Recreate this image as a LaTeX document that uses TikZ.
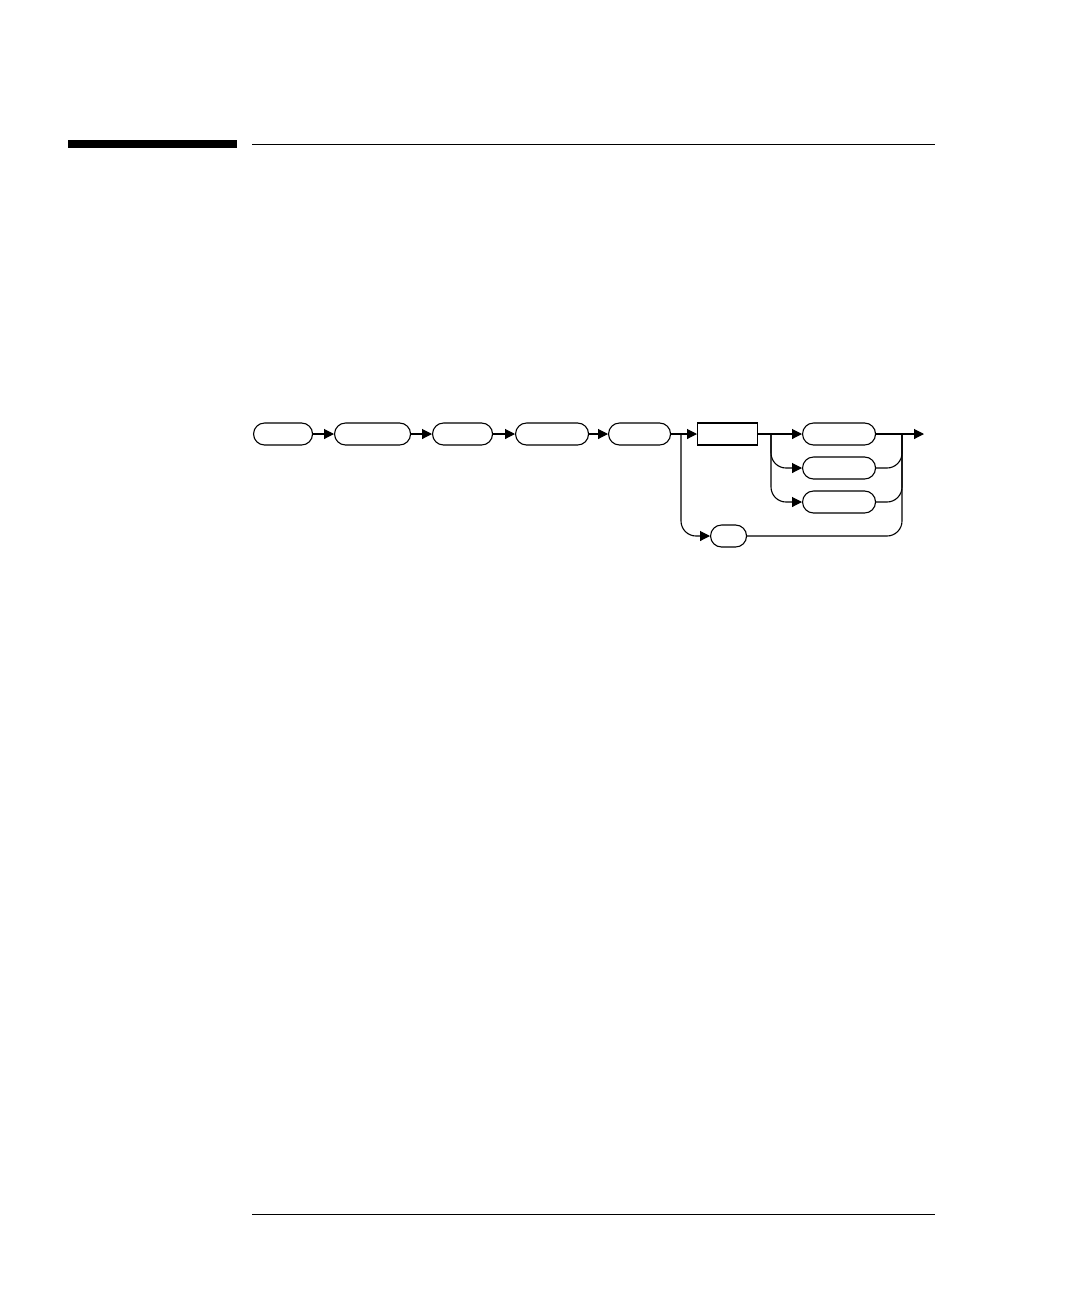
\documentclass[tikz,border=0pt]{standalone}
\usetikzlibrary{arrows.meta}
\begin{document}
\begin{tikzpicture}[x=1pt,y=-1pt,
  term/.style={draw,line width=1.1pt,rounded corners=11pt,minimum height=22pt,inner sep=0pt,anchor=west},
  nonterm/.style={draw,line width=1.1pt,minimum height=22pt,inner sep=0pt,anchor=west},
  conn/.style={line width=1.1pt},
  arr/.style={conn,-{Triangle[length=10pt,width=10pt]}},
  rc/.style={rounded corners=15pt}]
\useasboundingbox (0,0) rectangle (1080,1296);
% header / footer rules
\fill (68,140) rectangle (237,148);
\draw[line width=1pt] (252,144) -- (935,144);
\draw[line width=1pt] (252,1214) -- (935,1214);
% main chain
\node[term,minimum width=59pt] (n1) at (253,434) {};
\node[term,minimum width=76pt] (n2) at (334,434) {};
\node[term,minimum width=60pt] (n3) at (432,434) {};
\node[term,minimum width=73pt] (n4) at (515,434) {};
\node[term,minimum width=62pt] (n5) at (608,434) {};
\node[nonterm,minimum width=60pt] (r) at (697,434) {};
\node[term,minimum width=73pt] (o1) at (802,434) {};
\node[term,minimum width=73pt] (o2) at (802,468) {};
\node[term,minimum width=73pt] (o3) at (802,502) {};
\node[term,minimum width=36pt] (s) at (710,536) {};
\coordinate (sp) at (681,434);
\coordinate (b) at (771,434);
\coordinate (j) at (902,434);
\coordinate (e) at (924,434);
\draw[arr] (n1.east) -- (n2.west);
\draw[arr] (n2.east) -- (n3.west);
\draw[arr] (n3.east) -- (n4.west);
\draw[arr] (n4.east) -- (n5.west);
\draw[arr] (n5.east) -- (r.west);
\draw[arr,rc] (sp) |- (s.west);
\draw[arr] (r.east) -- (o1.west);
\draw[arr,rc] (b) |- (o2.west);
\draw[arr,rc] (b) |- (o3.west);
\draw[arr] (o1.east) -- (e);
\draw[conn,rc] (o2.east) -| (j);
\draw[conn,rc] (o3.east) -| (j);
\draw[conn,rc] (s.east) -| (j);
\end{tikzpicture}
\end{document}
